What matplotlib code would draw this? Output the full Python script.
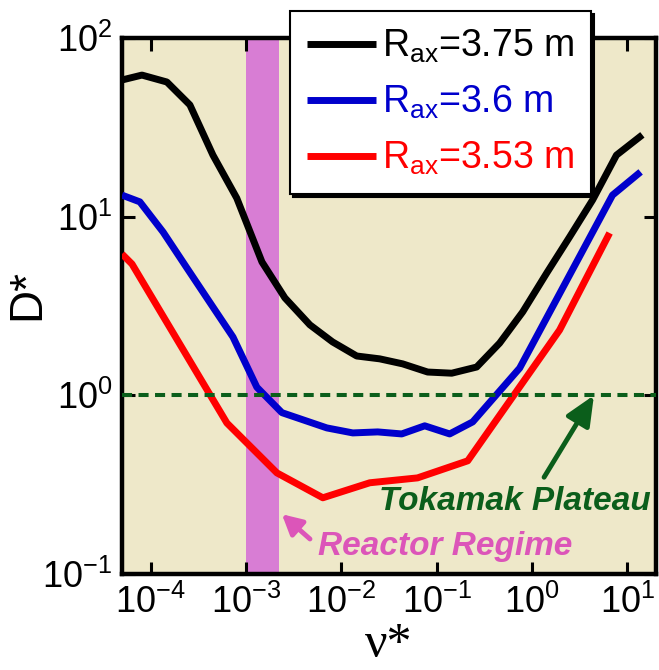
import matplotlib
matplotlib.use("Agg")
import matplotlib.pyplot as plt
from matplotlib.ticker import LogLocator

plt.rcParams["font.family"] = ["Liberation Sans", "DejaVu Sans"]
plt.rcParams["mathtext.fontset"] = "custom"
plt.rcParams["mathtext.rm"] = "Liberation Sans"
plt.rcParams["mathtext.it"] = "Liberation Sans:italic"
plt.rcParams["mathtext.bf"] = "Liberation Sans:bold"
plt.rcParams["axes.unicode_minus"] = False

# collisionality scan, D* vs nu*
nu_375 = [5.0e-5, 8.1e-5, 1.48e-4, 2.58e-4, 4.5e-4, 8.0e-4, 1.47e-3, 2.56e-3,
          4.68e-3, 8.1e-3, 1.45e-2, 2.53e-2, 4.4e-2, 8.05e-2, 0.144, 0.263,
          0.458, 0.80, 1.43, 2.48, 4.33, 7.7, 14.4]
d_375 = [58.2, 62.0, 56.7, 42.2, 22.1, 12.7, 5.58, 3.51, 2.48, 1.99, 1.66,
         1.60, 1.50, 1.35, 1.33, 1.44, 1.96, 2.93, 4.84, 7.69, 12.4, 22.1, 28.7]

nu_360 = [5.0e-5, 7.7e-5, 1.35e-4, 2.4e-4, 4.5e-4, 7.3e-4, 1.3e-3, 2.38e-3,
          7.05e-3, 1.32e-2, 2.41e-2, 4.3e-2, 7.5e-2, 0.137, 0.239, 0.743,
          7.0, 13.8]
d_360 = [13.2, 12.1, 8.2, 5.16, 3.12, 2.12, 1.11, 0.80, 0.657, 0.616, 0.624,
         0.608, 0.675, 0.608, 0.71, 1.42, 13.2, 17.8]

nu_353 = [5.0e-5, 6.37e-5, 6.3e-4, 2.11e-3, 6.4e-3, 1.99e-2, 6.3e-2, 0.212,
          1.95, 6.53]
d_353 = [6.18, 5.43, 0.70, 0.368, 0.267, 0.324, 0.345, 0.43, 2.32, 8.1]

labels = [r"R$_{\mathrm{ax}}$=3.75 m", r"R$_{\mathrm{ax}}$=3.6 m",
          r"R$_{\mathrm{ax}}$=3.53 m"]
colors = ["black", "#0000cc", "#ff0000"]

reactor_band = (1.0e-3, 2.2e-3)
plateau_level = 1.0

fig = plt.figure(figsize=(6.59, 6.70), dpi=100)
ax = fig.add_axes([0.1851, 0.1433, 0.8103, 0.8])
ax.set_facecolor("#eee8c9")

ax.axvspan(reactor_band[0], reactor_band[1], color="#d87dd4", lw=0, zorder=1)

for nu, d, lab, c in zip([nu_375, nu_360, nu_353], [d_375, d_360, d_353],
                         labels, colors):
    ax.plot(nu, d, color=c, lw=5, label=lab, zorder=3,
            solid_capstyle="butt")

ax.axhline(plateau_level, color="#0b5e1b", lw=2.9, dashes=(2.5, 1.6),
           zorder=4)

ax.set_xscale("log")
ax.set_yscale("log")
ax.set_xlim(5e-5, 2e1)
ax.set_ylim(0.1, 100)
ax.xaxis.set_major_locator(LogLocator(base=10, numticks=20))
ax.minorticks_off()
ax.tick_params(which="major", direction="in", top=True, right=True,
               length=9, width=2.2, labelsize=26)
ax.tick_params(axis="x", pad=8)
ax.tick_params(axis="y", pad=7)
for s in ax.spines.values():
    s.set_linewidth(3.2)

ax.set_ylabel("D*", fontsize=33)
ax.yaxis.set_label_coords(-0.137, 0.522)
ax.set_xlabel("ν*", fontsize=36, family=["Liberation Serif"])
ax.xaxis.set_label_coords(0.5, -0.088)

# Tokamak plateau arrow and label
green = "#0b5e1b"
ax.annotate("", xy=(4.47, 1.0), xytext=(1.34, 0.348),
            arrowprops=dict(arrowstyle="-|>,head_length=0.9,head_width=0.4",
                            lw=3.5, color=green, shrinkA=0, shrinkB=0,
                            mutation_scale=20),
            zorder=5)
ax.text(0.66, 0.253, "Tokamak Plateau", color=green, fontsize=24,
        fontweight="bold", fontstyle="italic", ha="center", va="center",
        zorder=5)

# reactor regime arrow and label
pink = "#dc55b9"
ax.annotate("", xy=(2.38e-3, 0.216), xytext=(4.69e-3, 0.157),
            arrowprops=dict(arrowstyle="-|>,head_length=0.85,head_width=0.45",
                            lw=3.5, color=pink, shrinkA=0, shrinkB=0,
                            mutation_scale=14),
            zorder=5)
ax.text(0.1217, 0.142, "Reactor Regime", color=pink, fontsize=24,
        fontweight="bold", fontstyle="italic", ha="center", va="center",
        zorder=5)

leg = ax.legend(loc="upper left", bbox_to_anchor=(0.315, 1.05),
                borderaxespad=0, fontsize=27, labelcolor="linecolor",
                handlelength=1.85, handletextpad=0.15, labelspacing=0.5,
                borderpad=0.45, fancybox=False, framealpha=1,
                edgecolor="black",
                shadow={"color": "black", "alpha": 1})
leg.get_frame().set_linewidth(1.5)
leg.set_zorder(10)

fig.savefig("out.png", dpi=100)
